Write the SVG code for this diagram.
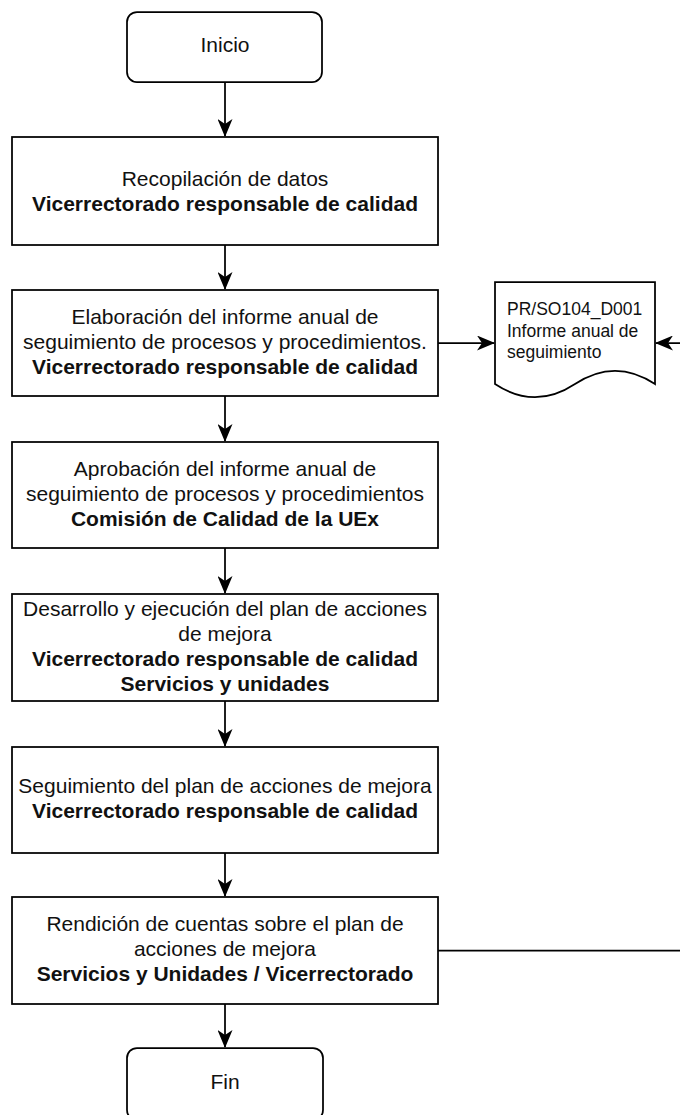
<svg xmlns="http://www.w3.org/2000/svg" width="680" height="1115" viewBox="0 0 680 1115">
<style>
.box{fill:#fff;stroke:#000;stroke-width:1.75}
.t{font-family:"Liberation Sans",Arial,sans-serif;font-size:21px;fill:#111;text-anchor:middle}
.b{font-weight:bold}
.d{font-family:"Liberation Sans",Arial,sans-serif;font-size:17.5px;fill:#111}
.c{fill:none;stroke:#000;stroke-width:1.75}
</style>
<defs>
<marker id="ah" viewBox="0 0 18 15" refX="17" refY="7.5" markerWidth="18" markerHeight="15" markerUnits="userSpaceOnUse" orient="auto">
<path d="M0,0 L18,7.5 L0,15 L5,7.5 Z" fill="#000"/>
</marker>
</defs>
<rect width="680" height="1115" fill="#fff"/>
<g id="connectors">
<path class="c" d="M225,82 V136" marker-end="url(#ah)"/>
<path class="c" d="M225,245 V289" marker-end="url(#ah)"/>
<path class="c" d="M225,396 V441" marker-end="url(#ah)"/>
<path class="c" d="M225,548 V593" marker-end="url(#ah)"/>
<path class="c" d="M225,701 V746" marker-end="url(#ah)"/>
<path class="c" d="M225,853 V896" marker-end="url(#ah)"/>
<path class="c" d="M225,1004 V1047" marker-end="url(#ah)"/>
<path class="c" d="M438,343 H494" marker-end="url(#ah)"/>
<path class="c" d="M438,950.5 H695 V343 H656" marker-end="url(#ah)"/>
</g>
<g id="inicio">
<rect class="box" x="127" y="12" width="195" height="70" rx="10"/>
<text class="t" x="225" y="52">Inicio</text>
</g>
<g id="recopilacion">
<rect class="box" x="12" y="137" width="426" height="108"/>
<text class="t" x="225" y="186">Recopilación de datos</text>
<text class="t b" x="225" y="211">Vicerrectorado responsable de calidad</text>
</g>
<g id="elaboracion">
<rect class="box" x="12" y="290" width="426" height="106"/>
<text class="t" x="225" y="324">Elaboración del informe anual de</text>
<text class="t" x="225" y="349">seguimiento de procesos y procedimientos.</text>
<text class="t b" x="225" y="374">Vicerrectorado responsable de calidad</text>
</g>
<g id="documento">
<path class="box" d="M495,282 H655 V384 Q615,357.6 575,384 Q535,410.4 495,384 Z"/>
<text class="d" x="507" y="315">PR/SO104_D001</text>
<text class="d" x="507" y="336.5">Informe anual de</text>
<text class="d" x="507" y="358">seguimiento</text>
</g>
<g id="aprobacion">
<rect class="box" x="12" y="442" width="426" height="106"/>
<text class="t" x="225" y="476">Aprobación del informe anual de</text>
<text class="t" x="225" y="501">seguimiento de procesos y procedimientos</text>
<text class="t b" x="225" y="526">Comisión de Calidad de la UEx</text>
</g>
<g id="desarrollo">
<rect class="box" x="12" y="594" width="426" height="107"/>
<text class="t" x="225" y="616">Desarrollo y ejecución del plan de acciones</text>
<text class="t" x="225" y="641">de mejora</text>
<text class="t b" x="225" y="666">Vicerrectorado responsable de calidad</text>
<text class="t b" x="225" y="691">Servicios y unidades</text>
</g>
<g id="seguimiento">
<rect class="box" x="12" y="747" width="426" height="106"/>
<text class="t" x="225" y="793">Seguimiento del plan de acciones de mejora</text>
<text class="t b" x="225" y="818">Vicerrectorado responsable de calidad</text>
</g>
<g id="rendicion">
<rect class="box" x="12" y="897" width="426" height="107"/>
<text class="t" x="225" y="931">Rendición de cuentas sobre el plan de</text>
<text class="t" x="225" y="956">acciones de mejora</text>
<text class="t b" x="225" y="981">Servicios y Unidades / Vicerrectorado</text>
</g>
<g id="fin">
<rect class="box" x="127" y="1048" width="196" height="72" rx="10"/>
<text class="t" x="225" y="1089">Fin</text>
</g>
</svg>
